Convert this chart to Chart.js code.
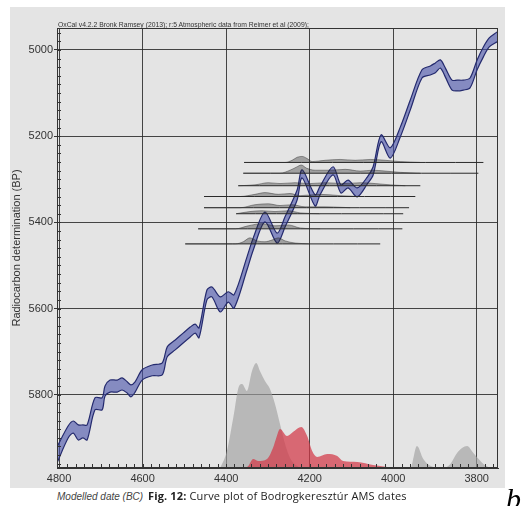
<!DOCTYPE html>
<html>
<head>
<meta charset="utf-8">
<script src="https://cdn.jsdelivr.net/npm/chart.js@4.4.1/dist/chart.umd.min.js"></script>
<style>
body { margin:0; background:#fff; width:521px; height:506px; overflow:hidden; position:relative; font-family:"Liberation Sans", Arial, sans-serif; }
#panel { position:absolute; left:10px; top:7px; width:495px; height:481px; background:#e4e4e4; }
#panel canvas { position:absolute; left:0; top:0; }
#oxcal { position:absolute; left:58px; top:21px; font-size:6.8px; color:#333; white-space:nowrap; }
#xlab { position:absolute; left:57px; top:491px; font-size:10px; font-style:italic; color:#444; white-space:nowrap; }
#fig { position:absolute; left:148px; top:488px; font-family:"Open Sans", sans-serif; font-size:11px; letter-spacing:0.15px; color:#222; white-space:nowrap; }
#letter { position:absolute; left:506px; top:484px; font-family:"Liberation Serif", serif; font-style:italic; font-size:30px; line-height:1; }
</style>
</head>
<body>
<div id="panel"><canvas id="chart" width="495" height="481"></canvas></div>
<div id="oxcal">OxCal v4.2.2 Bronk Ramsey (2013); r:5 Atmospheric data from Reimer et al (2009);</div>
<div id="xlab">Modelled date (BC)</div>
<div id="fig"><b>Fig. 12:</b> Curve plot of Bodrogkeresztúr AMS dates</div>
<div id="letter">b</div>
<script>
// tick labels
const xTicks = [4800, 4600, 4400, 4200, 4000, 3800];
const yTicks = [5000, 5200, 5400, 5600, 5800];

// calibration curve (years BC, band edges in BP)
const curveYear = [4805,4778,4766,4754,4743,4733,4714,4697,4690,4678,4661,4649,4637,4628,4618,4601,4577,4553,4541,4522,4503,4486,4474,4465,4446,4434,4414,4395,4381,4350,4335,4307,4278,4259,4230,4218,4187,4175,4144,4125,4108,4086,4062,4048,4029,4007,3983,3959,3931,3911,3899,3887,3875,3859,3847,3832,3816,3799,3784,3770,3751];
const curveUpper = [5921,5872,5861,5870,5870,5870,5807,5807,5780,5766,5766,5761,5770,5777,5770,5742,5731,5726,5689,5673,5657,5643,5636,5645,5557,5550,5573,5561,5568,5480,5436,5376,5425,5387,5325,5278,5336,5316,5271,5313,5302,5320,5295,5271,5197,5227,5179,5116,5046,5037,5030,5023,5042,5070,5070,5070,5065,5023,4993,4972,4958];
const curveLower = [5958,5900,5889,5905,5900,5905,5835,5835,5803,5794,5794,5789,5796,5805,5794,5766,5756,5754,5712,5696,5680,5666,5657,5668,5580,5573,5608,5585,5599,5510,5464,5399,5448,5411,5348,5297,5362,5336,5290,5332,5320,5341,5311,5290,5213,5251,5202,5139,5065,5058,5053,5042,5063,5093,5095,5093,5088,5046,5016,4993,4981];

// modelled distributions along the date axis
const grayYear = [4414,4398,4383,4369,4362,4350,4338,4328,4319,4307,4295,4283,4271,4259,4247,4230,4216,3959,3943,3928,3904,3880,3863,3847,3823,3808,3784,3768];
const grayProb = [0,17,50,82,84,77,97,105,97,87,79,64,44,24,10,2,0,0,22,9,1,0,4,15,22,15,4,0];
const redYear = [4426,4398,4350,4335,4323,4302,4287,4280,4271,4254,4240,4220,4206,4194,4182,4158,4134,4120,4086,4048,4014,3966];
const redProb = [0,0.5,1,9,7,9,21,30,39,32,36,41,32,17,11,14,12,7,6,3,1,0];

// radiocarbon dates: level, extent, and the small probability profiles on each line
const dateBP = [5261, 5286, 5315, 5340, 5366, 5380, 5415, 5450];
const dateFrom = [4357, 4359, 4371, 4453, 4453, 4376, 4467, 4498];
const dateTo = [3784, 3796, 3935, 3947, 3962, 3976, 3978, 4031];
const profYear = [
  [4357,4259,4242,4230,4218,4206,4194,4163,4127,4091,4055,4019,3983,3935],
  [4359,4271,4247,4232,4220,4208,4187,4151,4115,4079,4050,4019,3983,3935],
  [4371,4331,4299,4271,4235,4199,4163,4115,4079,4043,4007,3971],
  [4453,4366,4331,4307,4275,4247,4223,4175,4127,4079],
  [4453,4366,4331,4299,4271,4242,4211,4163,4103],
  [4376,4343,4314,4283,4251,4223,4175],
  [4467,4378,4347,4314,4283,4251,4223,4175],
  [4498,4378,4359,4343,4326,4307,4290,4275,4259,4235,4199]
];
const profH = [
  [0,0,5,12,14,9,2,5,7,5,7,5,2,0],
  [0,0,7,14,19,12,7,7,9,5,7,5,2,0],
  [0,2,7,5,7,5,7,5,7,5,2,0],
  [0,0,5,9,5,7,2,5,2,0],
  [0,0,7,9,5,7,2,2,0],
  [0,5,7,5,7,2,0],
  [0,0,7,12,7,9,2,0],
  [0,0,5,14,7,5,9,14,7,2,0]
];

const FONT = '"Liberation Sans", Arial, sans-serif';

const datasets = [];
datasets.push({
  data: curveYear.map((x, i) => ({x, y: curveUpper[i]})),
  borderColor: '#242a6e', borderWidth: 1.2, fill: false, tension: 0.3, order: 5
});
datasets.push({
  data: curveYear.map((x, i) => ({x, y: curveLower[i]})),
  borderColor: '#242a6e', borderWidth: 1.2, fill: '-1',
  backgroundColor: 'rgba(70,80,170,0.6)', tension: 0.3, order: 5
});
datasets.push({
  data: grayYear.map((x, i) => ({x, y: grayProb[i]})), yAxisID: 'y2',
  borderWidth: 0, fill: 'origin', backgroundColor: 'rgba(160,160,160,0.65)',
  cubicInterpolationMode: 'monotone', order: 7
});
datasets.push({
  data: redYear.map((x, i) => ({x, y: redProb[i]})), yAxisID: 'y2',
  borderWidth: 0, fill: 'origin', backgroundColor: 'rgba(210,55,70,0.72)',
  cubicInterpolationMode: 'monotone', order: 6
});
dateBP.forEach((bp, k) => {
  datasets.push({
    data: profYear[k].map((x, i) => ({x, y: bp - profH[k][i]})),
    borderColor: 'rgba(40,40,40,0.55)', borderWidth: 0.8,
    fill: {value: bp}, backgroundColor: 'rgba(30,30,30,0.34)',
    cubicInterpolationMode: 'monotone', order: 2
  });
  datasets.push({
    data: [{x: dateFrom[k], y: bp}, {x: dateTo[k], y: bp}],
    borderColor: '#2a2a2a', borderWidth: 1, fill: false, order: 1
  });
});

const frameTicks = {
  id: 'frameTicks',
  afterDatasetsDraw(chart) {
    const {ctx, chartArea: a, scales: {x, y}} = chart;
    ctx.save();
    ctx.strokeStyle = '#333';
    ctx.lineWidth = 1;
    ctx.beginPath();
    for (let v = 4960; v <= 5960; v += 20) {
      const py = Math.round(y.getPixelForValue(v)) + 0.5;
      ctx.moveTo(a.left, py); ctx.lineTo(a.left + 4, py);
    }
    for (let v = 3760; v <= 4800; v += 20) {
      const px = Math.round(x.getPixelForValue(v)) + 0.5;
      ctx.moveTo(px, a.bottom); ctx.lineTo(px, a.bottom - 4);
    }
    ctx.stroke();
    ctx.strokeRect(a.left + 0.5, a.top + 0.5, a.right - a.left - 1, a.bottom - a.top - 1);
    ctx.restore();
  }
};

new Chart(document.getElementById('chart'), {
  type: 'line',
  data: {datasets},
  options: {
    responsive: false,
    animation: false,
    events: [],
    layout: {padding: {left: 0, top: 21, right: 7, bottom: 0}},
    elements: {point: {radius: 0}, line: {tension: 0.3}},
    plugins: {legend: {display: false}, tooltip: {enabled: false}},
    scales: {
      x: {
        type: 'linear', min: 3749, max: 4805, reverse: true,
        afterBuildTicks: s => { s.ticks = xTicks.map(v => ({value: v})); },
        afterFit: s => { s.height = 20; },
        grid: {color: 'rgba(40,40,40,0.85)', lineWidth: 1, drawTicks: false},
        border: {color: '#333'},
        ticks: {color: '#333', font: {family: FONT, size: 11}, padding: 4, maxRotation: 0, autoSkip: false, callback: v => String(v)}
      },
      y: {
        type: 'linear', min: 4949, max: 5970, reverse: true,
        afterBuildTicks: s => { s.ticks = yTicks.map(v => ({value: v})); },
        afterFit: s => { s.width = 47; },
        grid: {color: 'rgba(40,40,40,0.85)', lineWidth: 1, tickLength: 3, tickColor: '#333'},
        border: {color: '#333'},
        ticks: {color: '#333', font: {family: FONT, size: 11}, padding: 1, autoSkip: false, callback: v => String(v)},
        title: {display: true, text: 'Radiocarbon determination (BP)', color: '#333', font: {family: FONT, size: 11}, padding: 0}
      },
      y2: {type: 'linear', min: 0, max: 440, display: false}
    }
  },
  plugins: [frameTicks]
});
</script>
</body>
</html>
